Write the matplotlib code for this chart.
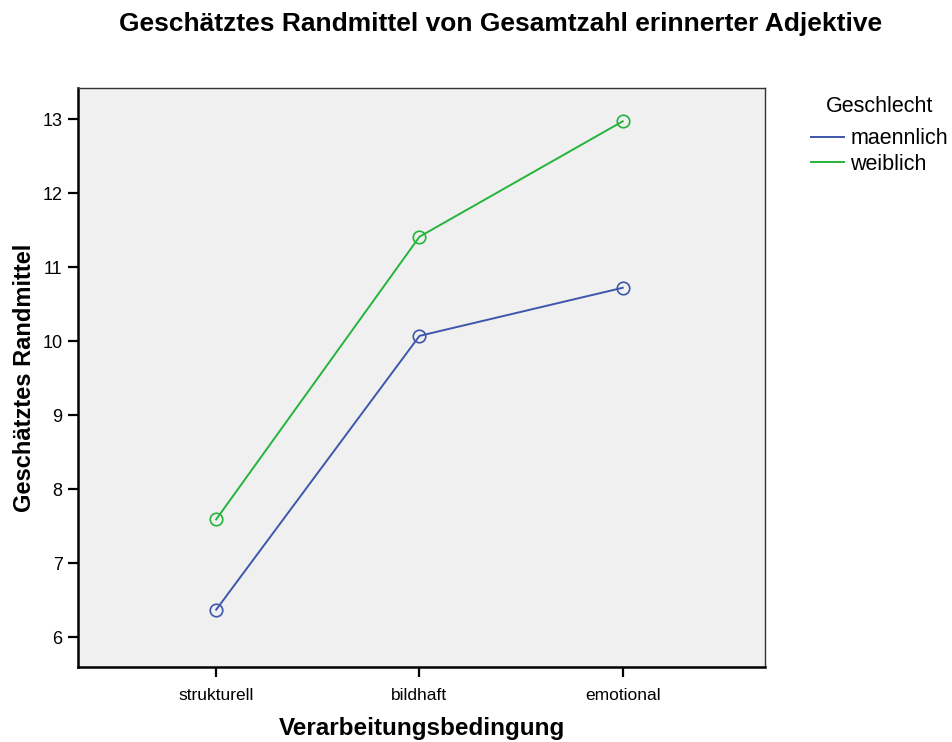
import matplotlib
matplotlib.use("Agg")
import matplotlib.pyplot as plt
from matplotlib.lines import Line2D

plt.rcParams['font.family'] = ['Liberation Sans', 'DejaVu Sans']

categories = ["strukturell", "bildhaft", "emotional"]
maennlich = [6.37, 10.07, 10.72]
weiblich = [7.59, 11.41, 12.97]
yticks = [6, 7, 8, 9, 10, 11, 12, 13]
series_names = ["maennlich", "weiblich"]

fig = plt.figure(figsize=(9.52, 7.42), dpi=100)
ax = fig.add_axes([78/952, 1-667/742, 687/952, (667-88)/742])
ax.set_facecolor('#F0F0F0')

x = list(range(len(categories)))
blue = '#3E56AC'
green = '#25B43A'
colors = [blue, green]
for vals, c, name in zip([maennlich, weiblich], colors, series_names):
    ax.plot(x, vals, color=c, lw=1.4, marker='o', ms=9, mfc='none', mec=c, mew=1.2, label=name)

ax.set_xlim(-0.68, 2.70)
ax.set_ylim(5.595, 13.42)
ax.set_xticks(x)
ax.set_xticklabels(categories, fontsize=12.5)
ax.set_yticks(yticks)
ax.set_yticklabels([str(v) for v in yticks], fontsize=13)
ax.tick_params(axis='both', direction='out', length=7, width=1.6, color='black', pad=4)
ax.tick_params(axis='x', pad=8)
for side in ['left', 'bottom']:
    ax.spines[side].set_linewidth(1.8)
for side in ['top', 'right']:
    ax.spines[side].set_linewidth(1.0)
    ax.spines[side].set_color('#333333')

ax.set_xlabel('Verarbeitungsbedingung', fontsize=17.5, fontweight='bold', labelpad=10)
ax.set_ylabel('Geschätztes Randmittel', fontsize=17, fontweight='bold', labelpad=5)
fig.suptitle('Geschätztes Randmittel von Gesamtzahl erinnerter Adjektive', x=0.526, y=0.984,
             fontsize=19, fontweight='bold')

handles = [Line2D([], [], color=c, lw=1.4) for c in colors]
leg = fig.legend(handles, series_names, loc='upper left', bbox_to_anchor=(811/952, 1-96/742), frameon=False,
                 title='Geschlecht', fontsize=15.5, title_fontsize=15.5,
                 handlelength=1.55, handletextpad=0.28, labelspacing=0.22, borderaxespad=0,
                 borderpad=0)
leg._legend_box.sep = 8

fig.savefig('out.png', dpi=100)
